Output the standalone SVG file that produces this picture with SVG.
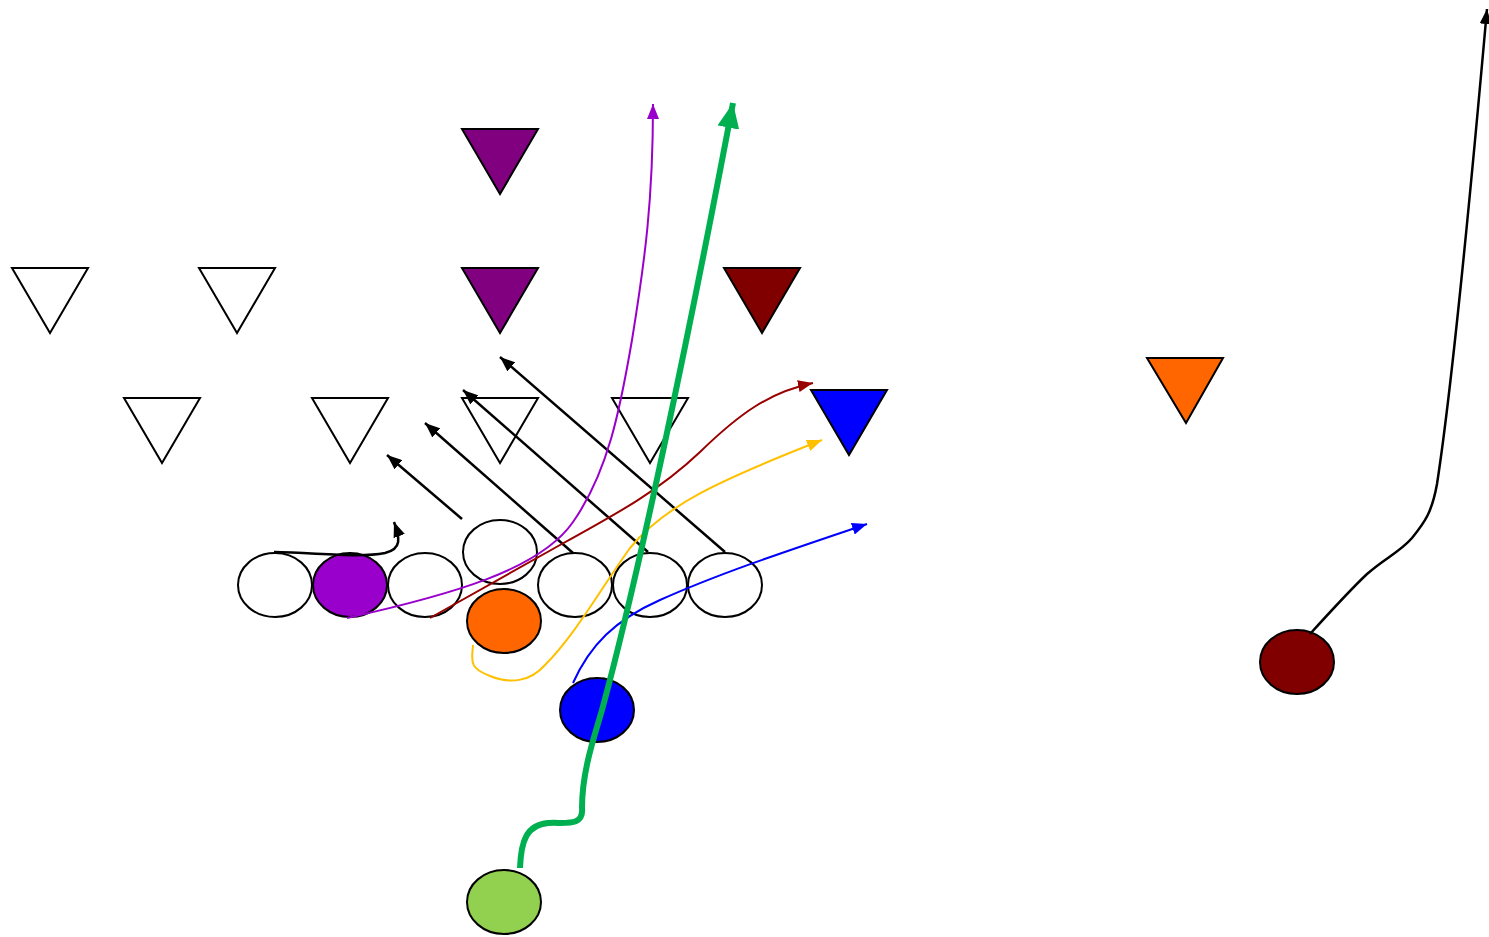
<svg xmlns="http://www.w3.org/2000/svg" width="1489" height="937" viewBox="0 0 1489 937">
<style>
.tri{stroke:#000;stroke-width:2;stroke-linejoin:miter}
.pl{stroke:#000;stroke-width:2}
.c{fill:none;stroke-linecap:butt}
</style>
<defs>
<marker id="ak" markerUnits="userSpaceOnUse" markerWidth="16" markerHeight="12" refX="15" refY="6" orient="auto"><path d="M0,0 L15,6 L0,12 z" fill="#000"/></marker>
<marker id="ap" markerUnits="userSpaceOnUse" markerWidth="16" markerHeight="12" refX="15" refY="6" orient="auto"><path d="M0,0 L15,6 L0,12 z" fill="#9900CC"/></marker>
<marker id="ar" markerUnits="userSpaceOnUse" markerWidth="16" markerHeight="12" refX="15" refY="6" orient="auto"><path d="M0,0 L15,6 L0,12 z" fill="#990000"/></marker>
<marker id="ay" markerUnits="userSpaceOnUse" markerWidth="16" markerHeight="12" refX="15" refY="6" orient="auto"><path d="M0,0 L15,6 L0,12 z" fill="#FFC000"/></marker>
<marker id="ab" markerUnits="userSpaceOnUse" markerWidth="16" markerHeight="12" refX="15" refY="6" orient="auto"><path d="M0,0 L15,6 L0,12 z" fill="#0000FF"/></marker>
<marker id="ag" markerUnits="userSpaceOnUse" markerWidth="26" markerHeight="22" refX="25" refY="11" orient="auto"><path d="M0,0 L25,11 L0,22 z" fill="#00B050"/></marker>
</defs>
<rect width="1489" height="937" fill="#fff"/>

<g id="defense">
<g id="d1"><polygon class="tri" points="12,268 88,268 50,333" fill="#fff"/></g>
<g id="d2"><polygon class="tri" points="199,268 275,268 237,333" fill="#fff"/></g>
<g id="d3"><polygon class="tri" points="462,129 538,129 500,194" fill="#800080"/></g>
<g id="d4"><polygon class="tri" points="462,268 538,268 500,333" fill="#800080"/></g>
<g id="d5"><polygon class="tri" points="724,268 800,268 762,333" fill="#800000"/></g>
<g id="d6"><polygon class="tri" points="124,398 200,398 162,463" fill="#fff"/></g>
<g id="d7"><polygon class="tri" points="312,398 388,398 350,463" fill="#fff"/></g>
<g id="d8"><polygon class="tri" points="462,398 538,398 500,463" fill="#fff"/></g>
<g id="d9"><polygon class="tri" points="612,398 688,398 650,463" fill="#fff"/></g>
<g id="d10"><polygon class="tri" points="811,390 887,390 849,455" fill="#0000FF"/></g>
<g id="d11"><polygon class="tri" points="1147,358 1223,358 1186,423" fill="#FF6600"/></g>
</g>

<g id="offense">
<g id="o1"><ellipse class="pl" cx="275" cy="585" rx="37" ry="32" fill="#fff"/></g>
<g id="o2"><ellipse class="pl" cx="350" cy="585" rx="37" ry="32" fill="#9900CC"/></g>
<g id="o3"><ellipse class="pl" cx="425" cy="585" rx="37" ry="32" fill="#fff"/></g>
<g id="o4"><ellipse class="pl" cx="500" cy="552" rx="37" ry="32" fill="#fff"/></g>
<g id="o5"><ellipse class="pl" cx="575" cy="585" rx="37" ry="32" fill="#fff"/></g>
<g id="o6"><ellipse class="pl" cx="650" cy="585" rx="37" ry="32" fill="#fff"/></g>
<g id="o7"><ellipse class="pl" cx="725" cy="585" rx="37" ry="32" fill="#fff"/></g>
<g id="o8"><ellipse class="pl" cx="504" cy="621" rx="37" ry="32" fill="#FF6600"/></g>
<g id="o9"><ellipse class="pl" cx="597" cy="710" rx="37" ry="32" fill="#0000FF"/></g>
<g id="o10"><ellipse class="pl" cx="504" cy="902" rx="37" ry="32" fill="#92D050"/></g>
<g id="o11"><ellipse class="pl" cx="1297" cy="662" rx="37" ry="32" fill="#800000"/></g>
</g>

<g id="connectors" class="c">
<path d="M462,519 L387,455" stroke="#000" stroke-width="2.5" marker-end="url(#ak)"/>
<path d="M573,553 L425,423" stroke="#000" stroke-width="2.5" marker-end="url(#ak)"/>
<path d="M648,552 L463,390" stroke="#000" stroke-width="2.5" marker-end="url(#ak)"/>
<path d="M725,552 L500,357" stroke="#000" stroke-width="2.5" marker-end="url(#ak)"/>
<path d="M274,552 C 320,553 360,558 385,553 C 402,549 400,538 394,522" stroke="#000" stroke-width="2.5" marker-end="url(#ak)"/>
<path d="M347,618 C 450,595 540,570 573,522 C 608,472 620,410 632,340 C 645,260 653,200 653,104" stroke="#9900CC" stroke-width="2" marker-end="url(#ap)"/>
<path d="M430,618 L 560,545 C 620,512 660,490 700,452 C 740,413 770,392 813,383" stroke="#990000" stroke-width="2" marker-end="url(#ar)"/>
<path d="M473,645 C 472,660 468,668 490,676 C 510,684 530,682 545,665 C 575,635 600,590 630,548 C 665,505 720,480 822,440" stroke="#FFC000" stroke-width="2" marker-end="url(#ay)"/>
<path d="M573,683 C 590,645 615,620 660,600 C 720,573 790,550 867,524" stroke="#0000FF" stroke-width="2" marker-end="url(#ab)"/>
<path d="M520,868 C 521,840 527,825 548,823 C 565,822 584,827 582,808 C 582,770 595,735 602,710 C 640,570 690,330 733,103" stroke="#00B050" stroke-width="6" marker-end="url(#ag)"/>
<path d="M1310,634 C 1330,612 1350,590 1367,574 C 1385,558 1400,552 1412,538 C 1425,522 1432,512 1437,484 C 1450,400 1470,200 1487,9" stroke="#000" stroke-width="2.5" marker-end="url(#ak)"/>
</g>
</svg>
